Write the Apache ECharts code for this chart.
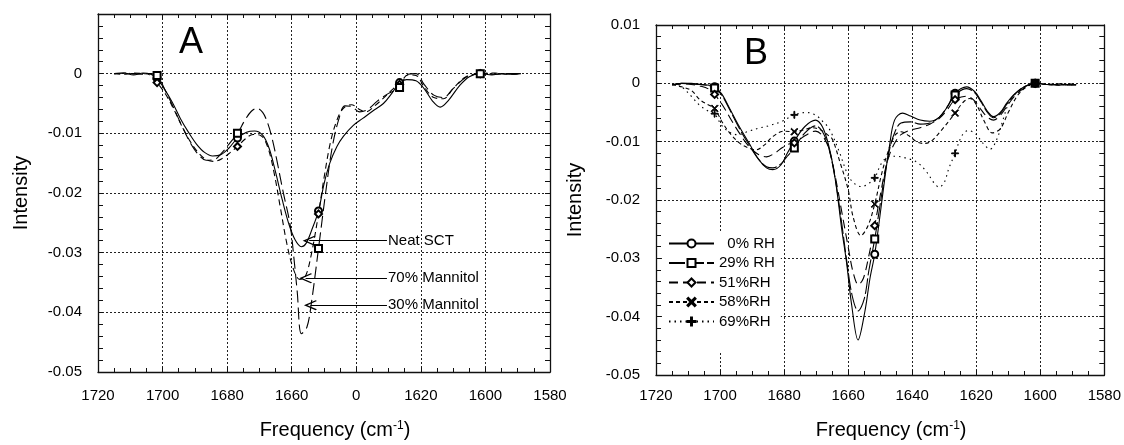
<!DOCTYPE html>
<html>
<head>
<meta charset="utf-8">
<script src="https://cdn.jsdelivr.net/npm/echarts@6/dist/echarts.min.js"></script>
<style>html,body{margin:0;padding:0;background:#fff;}#c{width:1124px;height:445px;}</style>
</head>
<body>
<div id="c"></div>
<script>
// ---------- DATA ----------
const xTicks = [1720, 1700, 1680, 1660, 1640, 1620, 1600, 1580];
const xTickLabelsA = ['1720', '1700', '1680', '1660', '0', '1620', '1600', '1580'];
const yTicks = [0.01, 0, -0.01, -0.02, -0.03, -0.04, -0.05];
const markerX = [1701.7, 1676.8, 1651.7, 1626.6, 1601.6];

// Panel A
const neatSCT = [[1715,0],[1712,0.0001],[1709,-0.0002],[1706,0.0001],[1704,0],[1701.7,-0.0008],[1699.5,-0.0025],[1697,-0.0048],[1694.5,-0.0075],[1692,-0.0098],[1689.5,-0.0118],[1687,-0.0132],[1684.5,-0.0138],[1682,-0.0136],[1679.5,-0.0125],[1676.8,-0.0108],[1674,-0.0098],[1671.5,-0.0096],[1669,-0.0103],[1667,-0.0125],[1665,-0.0165],[1663,-0.021],[1661,-0.025],[1659,-0.0278],[1657,-0.029],[1655.5,-0.0284],[1653.8,-0.0262],[1651.7,-0.023],[1650,-0.0185],[1648.2,-0.015],[1646,-0.0122],[1644,-0.0105],[1641,-0.0087],[1638,-0.0075],[1635,-0.0063],[1631.6,-0.005],[1629,-0.0033],[1626.6,-0.0015],[1624.4,-0.001],[1621.5,-0.0012],[1619,-0.0025],[1616.5,-0.0045],[1614,-0.0056],[1611.5,-0.0045],[1608,-0.002],[1605,-0.0005],[1601.6,0],[1598,-0.0002],[1595,0],[1592,-0.0001],[1589,0]];
const mannitol70 = [[1715,0],[1712,-0.0001],[1709,0.0001],[1706,0],[1704,-0.0002],[1701.7,-0.0015],[1699,-0.0035],[1696.5,-0.006],[1694,-0.0088],[1691.5,-0.0113],[1689,-0.0132],[1686.5,-0.0144],[1684,-0.0147],[1681.5,-0.0142],[1679,-0.0132],[1676.8,-0.0122],[1674.5,-0.011],[1672,-0.0102],[1669.5,-0.0104],[1667.5,-0.0122],[1665.5,-0.0165],[1663.5,-0.0225],[1661.5,-0.0285],[1659.5,-0.0327],[1657.5,-0.0345],[1655.8,-0.034],[1654,-0.0305],[1651.7,-0.0235],[1650,-0.0175],[1648,-0.0115],[1646,-0.0078],[1644,-0.0058],[1641.5,-0.0052],[1639,-0.006],[1637,-0.0064],[1634.5,-0.0055],[1631,-0.0038],[1628.5,-0.0025],[1626.6,-0.0018],[1624,-0.0002],[1621.5,-0.0003],[1619,-0.0022],[1616,-0.004],[1613,-0.0042],[1610,-0.0025],[1606,-0.0005],[1601.6,0],[1597,0.0001],[1593,-0.0001],[1589,0]];
const mannitol30 = [[1715,0],[1712,0.0001],[1709,0],[1706,-0.0001],[1704,0],[1701.7,-0.0003],[1699,-0.003],[1696.5,-0.0058],[1694,-0.0088],[1691.5,-0.0115],[1689,-0.0135],[1686.5,-0.0145],[1684,-0.0144],[1681.5,-0.0132],[1679,-0.0115],[1676.8,-0.01],[1674.5,-0.0078],[1672.5,-0.0063],[1670.8,-0.0058],[1669,-0.0065],[1667.5,-0.0082],[1666,-0.011],[1664.5,-0.0148],[1662.7,-0.0197],[1660.5,-0.0253],[1659.3,-0.031],[1658.3,-0.0365],[1657,-0.0436],[1655.3,-0.0425],[1654,-0.0388],[1651.7,-0.0293],[1649.5,-0.02],[1647.5,-0.0125],[1645.5,-0.0078],[1643.5,-0.0054],[1641.5,-0.0055],[1639,-0.0064],[1636.5,-0.006],[1633.5,-0.0046],[1630,-0.0033],[1626.6,-0.0023],[1624,-0.0001],[1621.5,0],[1619,-0.0018],[1616,-0.0036],[1613,-0.004],[1610,-0.0025],[1606,-0.0006],[1601.6,0],[1597,-0.0001],[1593,0],[1589,0]];
const arrowLabels = ['Neat SCT', '70% Mannitol', '30% Mannitol'];
const arrowY = [-0.028, -0.0343, -0.0388];
const arrowTipX = [1654.6, 1655.7, 1654.2];
const arrowTextX = 1630.5;

// Panel B
const rhNames = ['\u20070% RH', '29% RH', '51%RH', '58%RH', '69%RH'];
const rh0 = [[1715,-0.0003],[1712,0],[1709,0],[1706,-0.0002],[1703.5,-0.0003],[1701.7,-0.0006],[1699.5,-0.0018],[1697,-0.0043],[1694,-0.0074],[1691,-0.0102],[1688,-0.013],[1685.5,-0.0145],[1683.5,-0.0148],[1681,-0.014],[1679,-0.012],[1676.8,-0.0099],[1673.5,-0.0074],[1670.2,-0.0063],[1668,-0.0075],[1666,-0.0108],[1664,-0.0165],[1662,-0.025],[1660.5,-0.0307],[1658.9,-0.038],[1656.9,-0.044],[1654.8,-0.0392],[1653.2,-0.0335],[1651.7,-0.0293],[1650.2,-0.0233],[1648.6,-0.0165],[1647.1,-0.0108],[1645.5,-0.0063],[1643,-0.0051],[1640.5,-0.0056],[1637.5,-0.0063],[1634.5,-0.0065],[1631.5,-0.0058],[1629,-0.004],[1626.6,-0.0017],[1623,-0.0006],[1620.5,-0.0014],[1618.5,-0.003],[1616.5,-0.0048],[1614.6,-0.0057],[1612.5,-0.005],[1610.5,-0.0034],[1608,-0.0018],[1605,-0.0006],[1601.6,0],[1598,-0.0002],[1594,-0.0003],[1591,-0.0002],[1588.8,-0.0003]];
const rh29 = [[1715,-0.0003],[1712,0],[1709,-0.0001],[1706,-0.0002],[1703.5,-0.0004],[1701.7,-0.0008],[1699.5,-0.002],[1697,-0.0045],[1694,-0.0077],[1691,-0.0105],[1688,-0.013],[1685.5,-0.0143],[1683.5,-0.0145],[1681,-0.0138],[1679,-0.0125],[1676.8,-0.0111],[1673.5,-0.0085],[1670.2,-0.0073],[1668,-0.0083],[1666,-0.0112],[1664,-0.0165],[1662,-0.024],[1660.3,-0.031],[1658.7,-0.0365],[1656.9,-0.039],[1655,-0.037],[1653.5,-0.032],[1651.7,-0.0267],[1650.2,-0.0215],[1648.6,-0.0158],[1647,-0.0112],[1645.3,-0.0082],[1643.5,-0.0068],[1640.5,-0.0066],[1637.5,-0.007],[1634.5,-0.0068],[1631.5,-0.0058],[1629,-0.004],[1626.6,-0.002],[1623,-0.0009],[1620.5,-0.0016],[1618.5,-0.0032],[1616.5,-0.005],[1614.6,-0.0059],[1612.5,-0.0052],[1610.5,-0.0036],[1608,-0.0019],[1605,-0.0006],[1601.6,0],[1598,-0.0002],[1594,-0.0002],[1591,-0.0003],[1588.8,-0.0002]];
const rh51 = [[1715,-0.0002],[1712,-0.0001],[1709,-0.0002],[1706,-0.0005],[1703.5,-0.001],[1701.7,-0.0019],[1699.5,-0.0035],[1697,-0.0058],[1694,-0.0085],[1691,-0.0108],[1688,-0.0122],[1685.5,-0.0126],[1683,-0.012],[1680.5,-0.011],[1678.5,-0.0104],[1676.8,-0.0102],[1673.5,-0.009],[1670.2,-0.0082],[1668,-0.009],[1666,-0.0112],[1664,-0.016],[1662,-0.022],[1660,-0.028],[1658.4,-0.0325],[1656.8,-0.0345],[1655.3,-0.0335],[1653.7,-0.03],[1651.7,-0.0244],[1650,-0.0193],[1648.4,-0.0148],[1646.8,-0.0118],[1645,-0.0098],[1643.5,-0.0088],[1640.5,-0.008],[1637.5,-0.0076],[1634.5,-0.007],[1631.5,-0.006],[1629,-0.0045],[1626.6,-0.0028],[1623,-0.0022],[1620.5,-0.003],[1618.5,-0.0045],[1616.5,-0.0058],[1614.6,-0.0063],[1612.5,-0.0055],[1610.5,-0.004],[1608,-0.0022],[1605,-0.0008],[1601.6,0],[1598,-0.0002],[1594,-0.0001],[1591,-0.0003],[1588.8,-0.0002]];
const rh58 = [[1715,-0.0002],[1712,-0.0006],[1709,-0.0012],[1706.3,-0.0028],[1704,-0.0036],[1701.7,-0.0043],[1699.5,-0.0065],[1697,-0.0085],[1694,-0.0102],[1691,-0.0111],[1688.8,-0.0114],[1686,-0.0105],[1683.7,-0.0092],[1680,-0.0082],[1676.8,-0.0083],[1674,-0.008],[1671.3,-0.0076],[1668.5,-0.008],[1666.5,-0.0088],[1665,-0.0095],[1662.5,-0.0136],[1660,-0.0182],[1658.4,-0.023],[1656,-0.0261],[1653.8,-0.0244],[1651.7,-0.0207],[1649.7,-0.0159],[1648,-0.0125],[1645.5,-0.009],[1643.5,-0.0083],[1641,-0.009],[1638.3,-0.0101],[1636,-0.0103],[1634,-0.0099],[1630.5,-0.0078],[1626.6,-0.0051],[1624,-0.0032],[1622,-0.0026],[1620,-0.0036],[1617.5,-0.0065],[1615,-0.0085],[1612.5,-0.0078],[1610,-0.005],[1607,-0.002],[1604,-0.0005],[1601.6,0],[1598,-0.0002],[1594,-0.0003],[1591,-0.0001],[1588.8,-0.0002]];
const rh69 = [[1713,-0.0002],[1711.5,-0.0008],[1709,-0.0022],[1706.3,-0.0038],[1703.5,-0.0048],[1701.7,-0.0052],[1699.5,-0.0072],[1697,-0.0084],[1694.5,-0.0088],[1691,-0.0082],[1688,-0.0077],[1685,-0.0073],[1680.6,-0.0065],[1676.8,-0.0054],[1673,-0.005],[1670,-0.0055],[1668,-0.0065],[1666,-0.0077],[1663,-0.0114],[1660,-0.0158],[1658,-0.0172],[1655.8,-0.0177],[1653.7,-0.0172],[1651.7,-0.0162],[1649.7,-0.0138],[1647.5,-0.0126],[1645.5,-0.0125],[1642,-0.0128],[1638.3,-0.0136],[1635.5,-0.0152],[1633,-0.0172],[1631.6,-0.0178],[1630,-0.017],[1628.5,-0.0145],[1626.6,-0.012],[1624.5,-0.009],[1622.5,-0.0081],[1620.3,-0.0086],[1618,-0.0102],[1615.7,-0.0113],[1613.5,-0.0095],[1611.5,-0.006],[1609.5,-0.003],[1606.5,-0.0012],[1604.3,-0.0006],[1601.6,0],[1598,-0.0002],[1594,-0.0001],[1591,-0.0003]];

// ---------- CHART ----------
const FONT = '"Liberation Sans", Arial, Helvetica, sans-serif';
const CROSS = 'path://M0,1L1,0L5,4L9,0L10,1L6,5L10,9L9,10L5,6L1,10L0,9L4,5Z';
const PLUS = 'path://M4.4,0H5.6V4.4H10V5.6H5.6V10H4.4V5.6H0V4.4H4.4Z';
const ARROW = 'path://M5,0L10,9L9.2,10L5,2.6L0.8,10L0,9Z';

function toData(pts) {
  return pts.map(p => markerX.some(m => Math.abs(m - p[0]) < 0.05) ? { value: p } : { value: p, symbol: 'none' });
}
function fmtY(v) { return String(Math.round(v * 100) / 100); }

function xAxis(grid, main, labels) {
  return {
    type: 'value', gridIndex: grid, position: main ? 'bottom' : 'top', inverse: true,
    min: 1580, max: 1720, interval: 20,
    axisLine: { show: true, onZero: false, lineStyle: { color: '#111', width: 1.3 } },
    axisTick: { show: true, inside: true, length: 5, lineStyle: { color: '#111' } },
    minorTick: { show: true, splitNumber: 4, length: 4, lineStyle: { color: '#111' } },
    splitLine: { show: main, lineStyle: { color: '#222', type: [2, 2], width: 1 } },
    axisLabel: {
      show: main, margin: grid === 0 ? 16 : 13, color: '#000', fontSize: 15, fontFamily: FONT,
      formatter: v => labels[xTicks.indexOf(v)]
    },
    name: main ? 'Frequency (cm{sup|-1})' : '', nameLocation: 'middle', nameGap: grid === 0 ? 48 : 45,
    nameTextStyle: { color: '#000', fontSize: 20, fontFamily: FONT, padding: [0, 0, 0, 22],
      rich: { sup: { fontSize: 12, fontFamily: FONT, color: '#000', verticalAlign: 'top', padding: [0, 0, 8, 0] } } }
  };
}
function yAxis(grid, main, showTop) {
  return {
    type: 'value', gridIndex: grid, position: main ? 'left' : 'right',
    min: -0.05, max: 0.01, interval: 0.01,
    axisLine: { show: true, onZero: false, lineStyle: { color: '#111', width: 1.3 } },
    axisTick: { show: true, inside: true, length: 5, lineStyle: { color: '#111' } },
    minorTick: { show: true, splitNumber: 5, length: 5, lineStyle: { color: '#111' } },
    splitLine: { show: main, lineStyle: { color: '#222', type: [2, 2], width: 1 } },
    axisLabel: {
      show: main, margin: 16, color: '#000', fontSize: 15, fontFamily: FONT,
      formatter: v => (!showTop && v > 0.005) ? '' : fmtY(v)
    },
    name: main ? 'Intensity' : '', nameLocation: 'middle', nameGap: grid === 0 ? 67 : 71,
    nameTextStyle: { color: '#000', fontSize: 20, fontFamily: FONT }
  };
}

function lineSeries(name, pts, xi, yi, symbol, dash, extra) {
  return Object.assign({
    name: name, type: 'line', xAxisIndex: xi, yAxisIndex: yi,
    data: toData(pts), smooth: 0.35, symbol: symbol, symbolSize: 7,
    showSymbol: true, silent: true,
    lineStyle: { color: '#000', width: 1.1, type: dash },
    itemStyle: { color: '#000', borderColor: '#000', borderWidth: 1 },
    emphasis: { disabled: true }
  }, extra || {});
}
function arrowMark(i) {
  return {
    markLine: {
      silent: true, symbol: ['none', ARROW], symbolSize: [10, 13],
      lineStyle: { color: '#000', width: 1, type: 'solid' },
      label: { show: true, position: 'start', formatter: arrowLabels[i], color: '#000', fontSize: 15, fontFamily: FONT, distance: 1 },
      emphasis: { disabled: true },
      data: [[{ coord: [arrowTextX, arrowY[i]] }, { coord: [arrowTipX[i], arrowY[i]] }]]
    }
  };
}

const chart = echarts.init(document.getElementById('c'), null, { renderer: 'canvas' });
chart.setOption({
  animation: false,
  backgroundColor: '#fff',
  textStyle: { fontFamily: FONT },
  title: [
    { text: 'A', left: 179, top: 25, padding: 0, textStyle: { fontSize: 36, fontWeight: 'normal', color: '#000', fontFamily: FONT } },
    { text: 'B', left: 744, top: 36, padding: 0, textStyle: { fontSize: 36, fontWeight: 'normal', color: '#000', fontFamily: FONT } }
  ],
  grid: [
    { left: 98, top: 14, width: 452, height: 360 },
    { left: 656, top: 25, width: 453, height: 352 }
  ],
  legend: {
    data: rhNames, orient: 'vertical', left: 662, top: 233,
    padding: [3, 6, 22, 6], backgroundColor: '#fff',
    itemWidth: 45, itemHeight: 10, itemGap: 4.5, itemSymbolKeepAspect: true,
    textStyle: { color: '#000', fontSize: 15, fontFamily: FONT, lineHeight: 15 },
    selectedMode: false
  },
  xAxis: [xAxis(0, true, xTickLabelsA), xAxis(0, false, xTickLabelsA), xAxis(1, true, xTicks.map(String)), xAxis(1, false, xTicks.map(String))],
  yAxis: [yAxis(0, true, false), yAxis(0, false, false), yAxis(1, true, true), yAxis(1, false, true)],
  series: [
    lineSeries('Neat SCT', neatSCT, 0, 0, 'emptyCircle', 'solid', arrowMark(0)),
    lineSeries('70% Mannitol', mannitol70, 0, 0, 'emptyDiamond', [6, 4], arrowMark(1)),
    lineSeries('30% Mannitol', mannitol30, 0, 0, 'emptyRect', [12, 5], arrowMark(2)),
    lineSeries(rhNames[0], rh0, 2, 2, 'emptyCircle', 'solid'),
    lineSeries(rhNames[1], rh29, 2, 2, 'emptyRect', [16, 3]),
    lineSeries(rhNames[2], rh51, 2, 2, 'emptyDiamond', [9, 5]),
    lineSeries(rhNames[3], rh58, 2, 2, CROSS, [4, 3]),
    lineSeries(rhNames[4], rh69, 2, 2, PLUS, [1.5, 4])
  ]
});
</script>
</body>
</html>
